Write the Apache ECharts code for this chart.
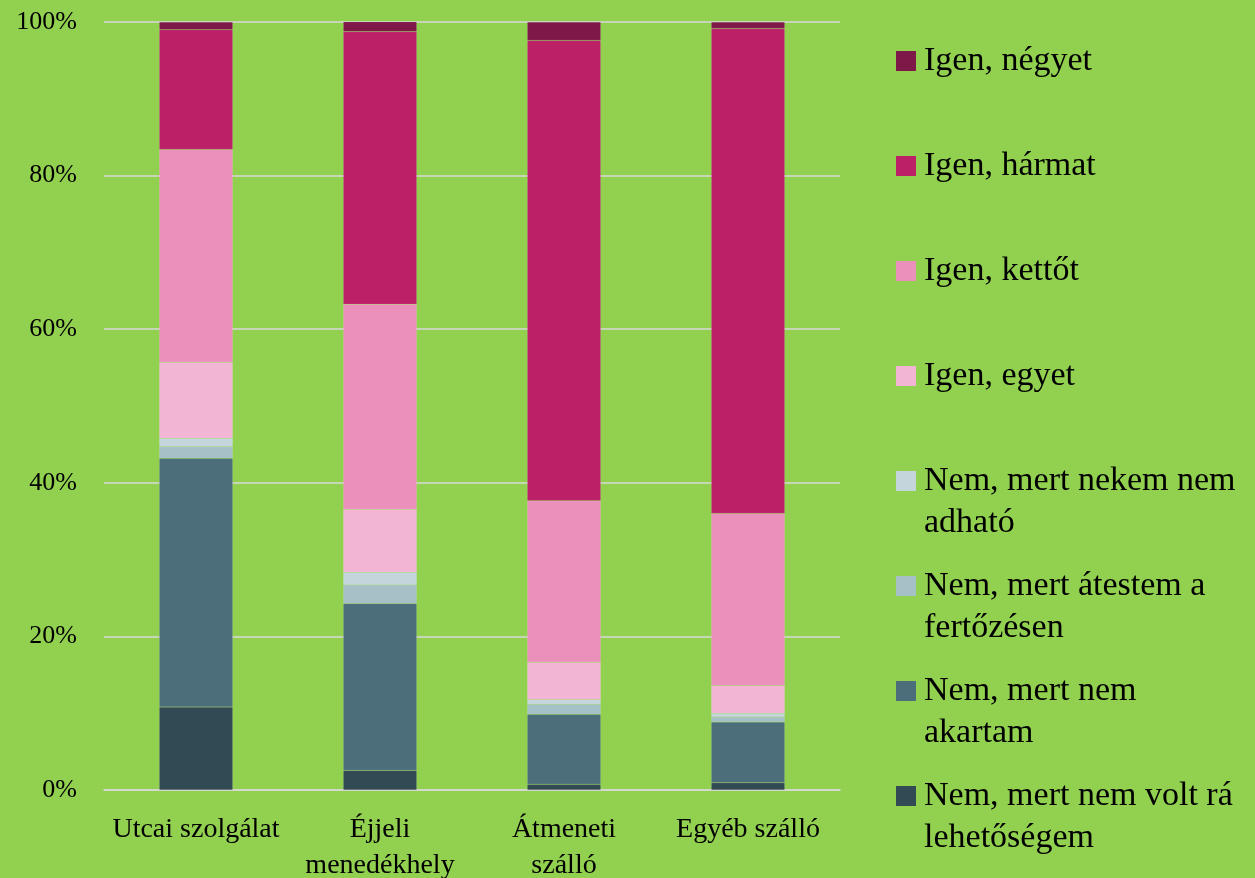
<!DOCTYPE html>
<html>
<head>
<meta charset="utf-8">
<script src="https://cdn.jsdelivr.net/npm/echarts@6/dist/echarts.min.js"></script>
<style>
  html, body { margin: 0; padding: 0; background: #92D050; }
  #chart { width: 1255px; height: 878px; }
</style>
</head>
<body>
<div id="chart"></div>
<script>
// categories (x axis)
const categories = ['Utcai szolgálat', 'Éjjeli\nmenedékhely', 'Átmeneti\nszálló', 'Egyéb szálló'];

// share of answers, %, bottom segment first
const voltRa   = [10.8, 2.55, 0.75, 0.95];   // Nem, mert nem volt rá lehetőségem
const akartam  = [32.4, 21.75, 9.1, 7.9];    // Nem, mert nem akartam
const atestem  = [1.5, 2.4, 1.3, 0.65];      // Nem, mert átestem a fertőzésen
const adhato   = [1.1, 1.65, 0.6, 0.5];      // Nem, mert nekem nem adható
const egyet    = [9.9, 8.2, 4.9, 3.6];       // Igen, egyet
const kettot   = [27.7, 26.7, 21.0, 22.4];   // Igen, kettőt
const harmat   = [15.6, 35.5, 59.95, 63.15]; // Igen, hármat
const negyet   = [1.0, 1.3, 2.4, 0.85];      // Igen, négyet

const yTicks = [0, 20, 40, 60, 80, 100];

const names = [
  'Nem, mert nem volt rá\nlehetőségem',
  'Nem, mert nem\nakartam',
  'Nem, mert átestem a\nfertőzésen',
  'Nem, mert nekem nem\nadható',
  'Igen, egyet',
  'Igen, kettőt',
  'Igen, hármat',
  'Igen, négyet'
];
const values = [voltRa, akartam, atestem, adhato, egyet, kettot, harmat, negyet];
const colors = ['#324A53', '#4C6E7B', '#A6C0C8', '#C5D5DC', '#F2B5D4', '#EB90BA', '#BC2067', '#7D1848'];

const font = '"Liberation Serif", "DejaVu Serif", serif';

const chart = echarts.init(document.getElementById('chart'));

const series = names.map((name, i) => ({
  name: name,
  type: 'bar',
  stack: 'total',
  barWidth: '40%',
  data: values[i],
  itemStyle: {
    color: colors[i],
    borderColor: 'rgba(255,255,255,0.2)',
    borderWidth: 0.5
  },
  emphasis: { disabled: true }
}));

const option = {
  backgroundColor: '#92D050',
  animation: false,
  textStyle: { fontFamily: font, color: '#000' },
  grid: {
    left: 104,
    right: 415,
    top: 22,
    bottom: 88,
    containLabel: false,
    outerBoundsMode: 'none'
  },
  xAxis: {
    type: 'category',
    data: categories,
    axisTick: { show: false },
    axisLine: { lineStyle: { color: '#D9D9D9', width: 1.5 } },
    axisLabel: {
      interval: 0,
      margin: 22,
      fontFamily: font,
      fontSize: 28,
      lineHeight: 36,
      color: '#000'
    }
  },
  yAxis: {
    type: 'value',
    min: yTicks[0],
    max: yTicks[yTicks.length - 1],
    interval: yTicks[1] - yTicks[0],
    axisLine: { show: false },
    axisTick: { show: false },
    splitLine: { lineStyle: { color: '#D9D9D9', width: 1.5 } },
    axisLabel: {
      margin: 27,
      fontFamily: font,
      fontSize: 26,
      color: '#000',
      formatter: '{value}%'
    }
  },
  legend: [
    {
      orient: 'vertical',
      left: 896,
      top: 41,
      padding: 0,
      itemWidth: 20,
      itemHeight: 20,
      itemGap: 65,
      icon: 'rect',
      selectedMode: false,
      itemStyle: { borderWidth: 0 },
      data: names.slice(4).reverse(),
      textStyle: {
        fontFamily: font,
        fontSize: 34,
        lineHeight: 40,
        color: '#000',
        padding: [0, 0, 0, 3]
      }
    },
    {
      orient: 'vertical',
      left: 896,
      top: 418,
      padding: 0,
      itemWidth: 20,
      itemHeight: 20,
      itemGap: -21,
      icon: 'rect',
      selectedMode: false,
      itemStyle: { borderWidth: 0 },
      data: names.slice(0, 4).reverse(),
      // empty first line so the first text line sits level with the icon
      formatter: (name) => '\n' + name,
      textStyle: {
        fontFamily: font,
        fontSize: 34,
        lineHeight: 42,
        color: '#000',
        padding: [0, 0, 0, 3]
      }
    }
  ],
  series: series
};

chart.setOption(option);
</script>
</body>
</html>
